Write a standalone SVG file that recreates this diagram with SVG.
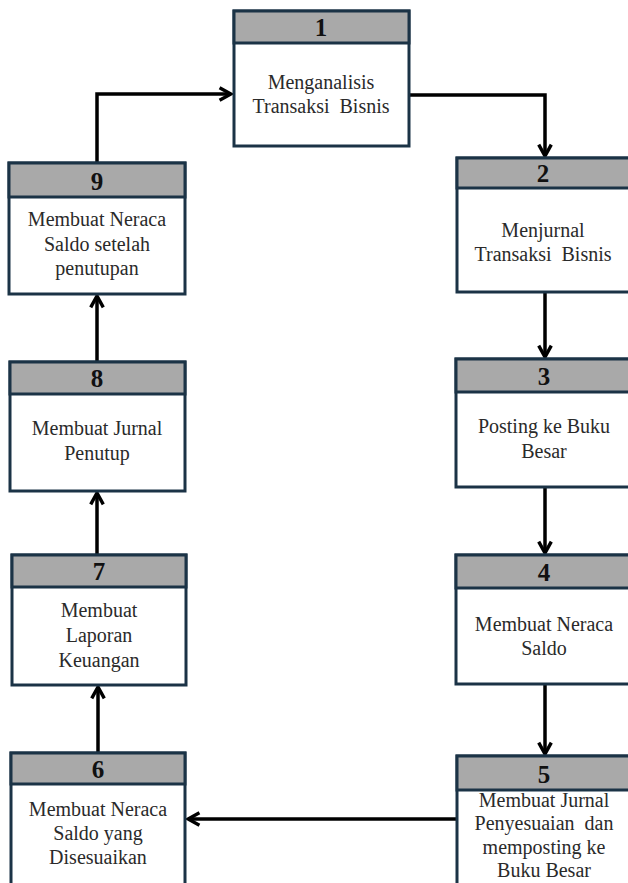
<svg xmlns="http://www.w3.org/2000/svg" width="628" height="883" viewBox="0 0 628 883">
<defs>
<style>
.box{fill:#ffffff;stroke:#1b3346;stroke-width:3}
.hdr{fill:#a9a9a9;stroke:#1b3346;stroke-width:3}
.num{font-family:"Liberation Serif","Times New Roman",serif;font-size:25px;font-weight:bold;fill:#111;text-anchor:middle}
.lbl{font-family:"Liberation Serif","Times New Roman",serif;font-size:20px;fill:#2a2a2a;text-anchor:middle}
.con{fill:none;stroke:#000;stroke-width:3.5;marker-end:url(#arr)}
</style>
<marker id="arr" viewBox="0 0 14 14" refX="12" refY="7" markerWidth="16" markerHeight="16" markerUnits="userSpaceOnUse" orient="auto">
<path d="M2,1.5 L12,7 L2,12.5" fill="none" stroke="#000" stroke-width="3"/>
</marker>
</defs>
<rect width="628" height="883" fill="#ffffff"/>
<g id="connectors">
<path class="con" d="M409,95 H545 V156"/>
<path class="con" d="M545,293 V357"/>
<path class="con" d="M545,487 V553"/>
<path class="con" d="M545,684 V754"/>
<path class="con" d="M457,819 H188"/>
<path class="con" d="M98,753 V687"/>
<path class="con" d="M97,555 V493"/>
<path class="con" d="M97,362 V296"/>
<path class="con" d="M97,163 V94 H231"/>
</g>
<g id="node1">
<rect class="box" x="234" y="11" width="175" height="135"/>
<rect class="hdr" x="234" y="11" width="175" height="32"/>
<text class="num" x="321" y="36">1</text>
<text class="lbl" x="321" y="89">Menganalisis</text>
<text class="lbl" x="321" y="113" xml:space="preserve">Transaksi  Bisnis</text>
</g>
<g id="node2">
<rect class="box" x="457" y="158" width="174" height="134"/>
<rect class="hdr" x="457" y="158" width="174" height="30"/>
<text class="num" x="543" y="182">2</text>
<text class="lbl" x="543" y="237">Menjurnal</text>
<text class="lbl" x="543" y="261" xml:space="preserve">Transaksi  Bisnis</text>
</g>
<g id="node3">
<rect class="box" x="456" y="359" width="175" height="128"/>
<rect class="hdr" x="456" y="359" width="175" height="33"/>
<text class="num" x="544" y="385">3</text>
<text class="lbl" x="544" y="433">Posting ke Buku</text>
<text class="lbl" x="544" y="458">Besar</text>
</g>
<g id="node4">
<rect class="box" x="456" y="555" width="175" height="129"/>
<rect class="hdr" x="456" y="555" width="175" height="33"/>
<text class="num" x="544" y="581">4</text>
<text class="lbl" x="544" y="631">Membuat Neraca</text>
<text class="lbl" x="544" y="655">Saldo</text>
</g>
<g id="node5">
<rect class="box" x="457" y="756" width="174" height="132"/>
<rect class="hdr" x="457" y="756" width="174" height="34"/>
<text class="num" x="544" y="783">5</text>
<text class="lbl" x="544" y="807">Membuat Jurnal</text>
<text class="lbl" x="544" y="830" xml:space="preserve">Penyesuaian  dan</text>
<text class="lbl" x="544" y="854">memposting ke</text>
<text class="lbl" x="544" y="877">Buku Besar</text>
</g>
<g id="node6">
<rect class="box" x="11" y="753" width="174" height="134"/>
<rect class="hdr" x="11" y="753" width="174" height="31"/>
<text class="num" x="98" y="778">6</text>
<text class="lbl" x="98" y="816">Membuat Neraca</text>
<text class="lbl" x="98" y="840">Saldo yang</text>
<text class="lbl" x="98" y="864">Disesuaikan</text>
</g>
<g id="node7">
<rect class="box" x="12" y="555" width="174" height="130"/>
<rect class="hdr" x="12" y="555" width="174" height="32"/>
<text class="num" x="99" y="580">7</text>
<text class="lbl" x="99" y="617">Membuat</text>
<text class="lbl" x="99" y="642">Laporan</text>
<text class="lbl" x="99" y="667">Keuangan</text>
</g>
<g id="node8">
<rect class="box" x="10" y="362" width="175" height="129"/>
<rect class="hdr" x="10" y="362" width="175" height="32"/>
<text class="num" x="97" y="387">8</text>
<text class="lbl" x="97" y="435">Membuat Jurnal</text>
<text class="lbl" x="97" y="460">Penutup</text>
</g>
<g id="node9">
<rect class="box" x="9" y="163" width="176" height="131"/>
<rect class="hdr" x="9" y="163" width="176" height="34"/>
<text class="num" x="97" y="190">9</text>
<text class="lbl" x="97" y="226">Membuat Neraca</text>
<text class="lbl" x="97" y="251" xml:space="preserve">Saldo setelah</text>
<text class="lbl" x="97" y="275">penutupan</text>
</g>
</svg>
